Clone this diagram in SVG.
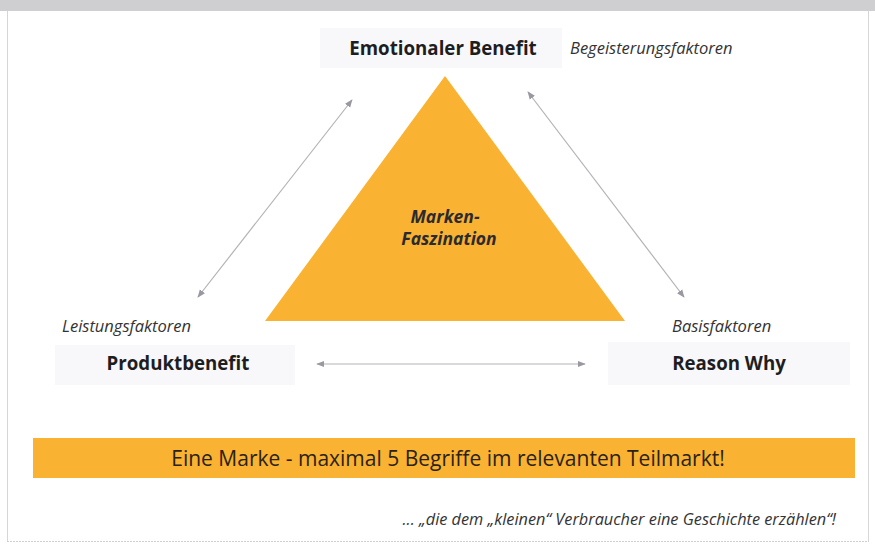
<svg xmlns="http://www.w3.org/2000/svg" width="875" height="545" viewBox="0 0 875 545">
  <defs>
    <style>
      .title { font-family: "Open Sans", "Noto Sans", sans-serif; font-weight: 700; font-size: 18.7px; fill: #1e1e22; }
      .note { font-family: "Open Sans", "Noto Sans", sans-serif; font-style: italic; font-size: 16.5px; fill: #333; }
      .foot { font-family: "Open Sans", "Noto Sans", sans-serif; font-style: italic; font-size: 16.3px; fill: #333; }
      .core { font-family: "Open Sans", "Noto Sans", sans-serif; font-weight: 700; font-style: italic; font-size: 17.5px; fill: #2a2a30; }
      .pane { fill: #f8f8fa; }
      .link { stroke: #b4b2b8; stroke-width: 1.2; fill: none; marker-start: url(#tip); marker-end: url(#tip); }
    </style>
    <marker id="tip" viewBox="0 0 10 10" refX="9" refY="5" markerWidth="8" markerHeight="8" orient="auto-start-reverse" markerUnits="userSpaceOnUse">
      <path d="M0,1 L10,5 L0,9 Z" fill="#9a98a0"/>
    </marker>
  </defs>

  <!-- page frame -->
  <rect x="0" y="0" width="875" height="545" fill="#ffffff"/>
  <rect x="0" y="0" width="875" height="11" fill="#cfcfd1"/>
  <line x1="7.5" y1="11" x2="7.5" y2="541" stroke="#d6d6d8" stroke-width="1"/>
  <line x1="868.5" y1="11" x2="868.5" y2="541" stroke="#d6d6d8" stroke-width="1"/>
  <line x1="7" y1="541.5" x2="869" y2="541.5" stroke="#d0d0d2" stroke-width="1" stroke-dasharray="2 1"/>

  <!-- central triangle -->
  <g id="core">
    <polygon points="445,76 625,321 265,321" fill="#f9b232"/>
    <text class="core" x="445" y="223" text-anchor="middle">Marken-</text>
    <text class="core" x="449" y="245" text-anchor="middle">Faszination</text>
  </g>

  <g id="emotional">
    <rect class="pane" x="320" y="28" width="242" height="40"/>
    <text class="title" x="443" y="55" text-anchor="middle">Emotionaler Benefit</text>
    <text class="note" x="570" y="54">Begeisterungsfaktoren</text>
  </g>

  <g id="produkt">
    <rect class="pane" x="55" y="345" width="240" height="40"/>
    <text class="note" x="62" y="332">Leistungsfaktoren</text>
    <text class="title" x="178" y="370" text-anchor="middle">Produktbenefit</text>
  </g>

  <g id="reason">
    <rect class="pane" x="608" y="342" width="242" height="43"/>
    <text class="note" x="672" y="332">Basisfaktoren</text>
    <text class="title" x="729" y="370" text-anchor="middle">Reason Why</text>
  </g>

  <g id="connectors">
    <line class="link" x1="198" y1="297" x2="352" y2="100"/>
    <line class="link" x1="528" y1="92" x2="684" y2="297"/>
    <line class="link" x1="317" y1="364" x2="585" y2="364"/>
  </g>

  <g id="banner">
    <rect x="33" y="438" width="822" height="40" fill="#f9b232"/>
    <text x="448" y="466" text-anchor="middle" font-family="'Open Sans', 'Noto Sans', sans-serif" font-size="21" fill="#2b2215">Eine Marke - maximal 5 Begriffe im relevanten Teilmarkt!</text>
  </g>

  <g id="footnote">
    <text class="foot" x="836" y="525" text-anchor="end">... „die dem „kleinen“ Verbraucher eine Geschichte erzählen“!</text>
  </g>
</svg>
